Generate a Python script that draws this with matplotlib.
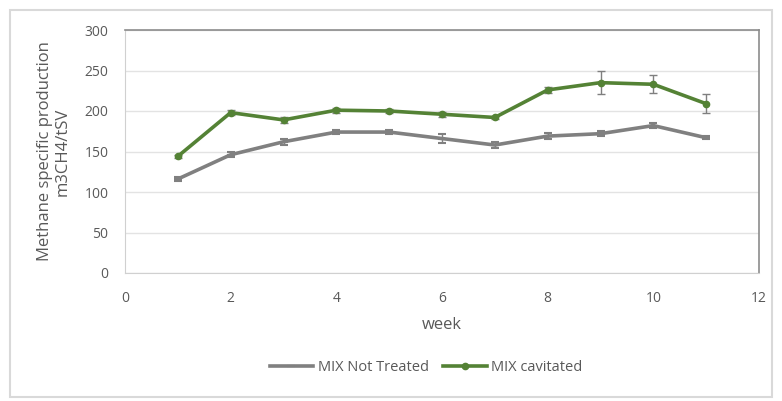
import matplotlib.pyplot as plt
from matplotlib.patches import Rectangle
from matplotlib.lines import Line2D

weeks = [1, 2, 3, 4, 5, 6, 7, 8, 9, 10, 11]
not_treated = [116, 146, 162, 174, 174, 166, 158, 169, 172, 182, 167]
not_treated_err = [2, 3, 4, 3, 3, 5, 4, 4, 3, 3, 2]
cavitated = [144, 198, 189, 201, 200, 196, 192, 226, 235, 233, 209]
cavitated_err = [2, 3, 4, 3, 3, 3, 2, 4, 14, 11, 12]

plt.rcParams['font.family'] = ['Open Sans', 'DejaVu Sans']
txt = '#595959'
gray = '#808080'
green = '#548235'

fig = plt.figure(figsize=(7.82, 4.01), dpi=100)
fig.patches.append(Rectangle((10/782, 4/401), 762/782, 387/401, transform=fig.transFigure,
                             fill=False, edgecolor='#d9d9d9', linewidth=1.5))
ax = fig.add_axes([125/782, 1-273/401, 634/782, 243/401])

ax.errorbar(weeks, not_treated, yerr=not_treated_err, color=gray, lw=2.6,
            marker='_', ms=6, mew=1.5, capsize=3, elinewidth=1, ecolor=gray, zorder=3)
ax.errorbar(weeks, cavitated, yerr=cavitated_err, color=green, lw=2.6,
            marker='o', ms=4.5, capsize=3, elinewidth=1, ecolor='#7f7f7f', zorder=4)

ax.set_xlim(0, 12)
ax.set_ylim(0, 300)
ax.set_xticks(range(0, 13, 2))
ax.set_yticks(range(0, 301, 50))
ax.grid(axis='y', color='#e3e3e3', lw=1)
ax.set_axisbelow(True)
ax.tick_params(length=0, colors=txt, labelsize=10)
ax.tick_params(axis='x', pad=13)
ax.tick_params(axis='y', pad=12)
for s in ['left', 'bottom']:
    ax.spines[s].set_color('#d0d0d0')
for s in ['top', 'right']:
    ax.spines[s].set_color('#8c8c8c')
    ax.spines[s].set_linewidth(1.2)

ax.set_xlabel('week', color=txt, fontsize=12, labelpad=8)
ax.set_ylabel('Methane specific production\nm3CH4/tSV', color=txt, fontsize=12,
              labelpad=10, linespacing=1.1, multialignment='center')

handles = [Line2D([], [], color=gray, lw=2.6, marker='_', ms=6, mew=1.5),
           Line2D([], [], color=green, lw=2.6, marker='o', ms=4.5)]
leg = ax.legend(handles, ['MIX Not Treated', 'MIX cavitated'], loc='upper center',
                bbox_to_anchor=(0.475, -0.305), ncol=2, frameon=False,
                fontsize=10.5, handlelength=3, columnspacing=1.0, handletextpad=0.3)
for t in leg.get_texts():
    t.set_color(txt)

fig.savefig('out.png', dpi=100)
